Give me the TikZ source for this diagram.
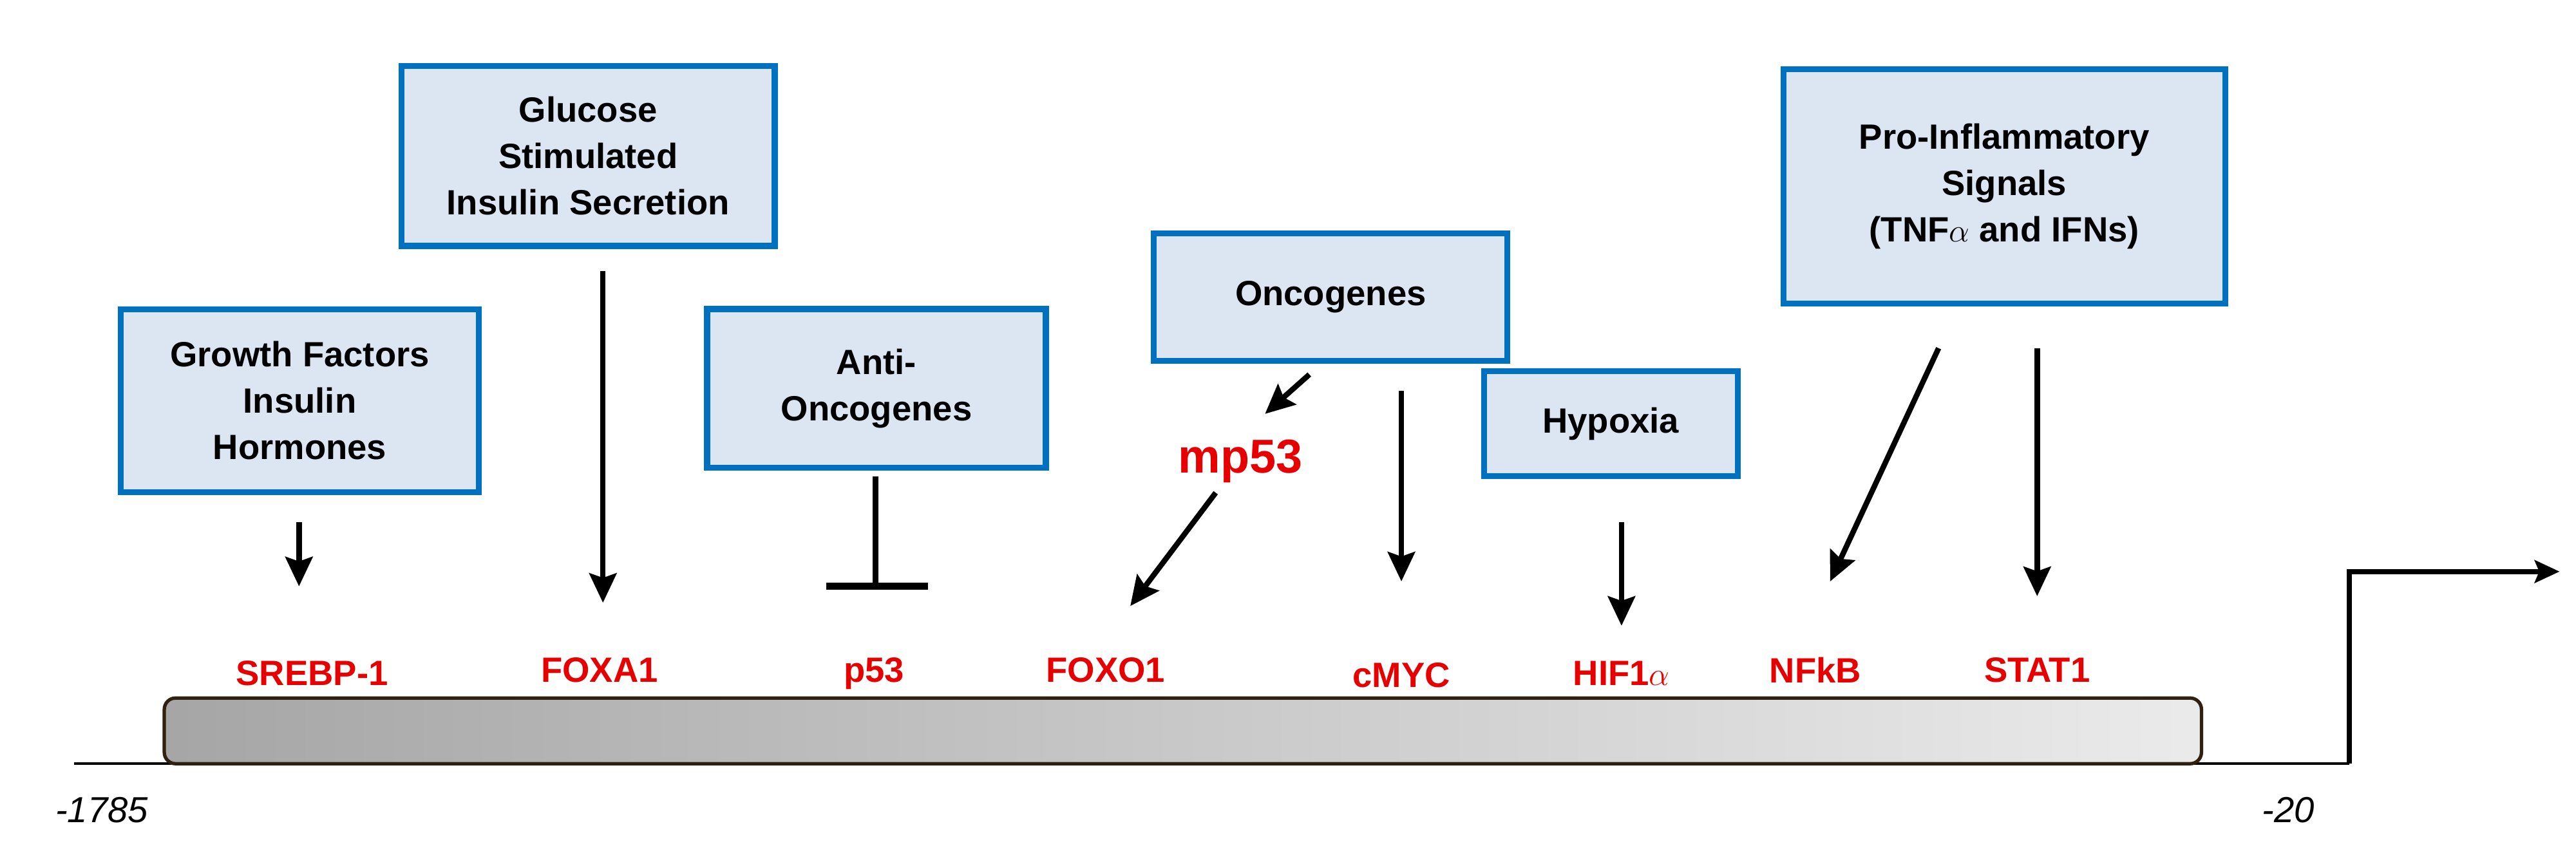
\documentclass[tikz,border=0pt]{standalone}
\usepackage{fontspec}
\setmainfont{Liberation Sans}
\usetikzlibrary{arrows.meta}
\definecolor{boxfill}{RGB}{220,230,242}
\definecolor{boxline}{RGB}{0,112,192}
\definecolor{lab}{RGB}{230,0,0}
\begin{document}
\begin{tikzpicture}[x=0.02551cm,y=-0.02551cm,
 box/.style={draw=boxline,fill=boxfill,line width=2.6pt,align=center,font=\fontsize{15.5}{20.5}\selectfont\bfseries,inner sep=0pt},
 lbl/.style={text=lab,font=\fontsize{15.5}{18}\selectfont\bfseries},
 arr/.style={line width=2.4pt,-{Stealth[length=13pt,width=12pt,inset=2pt]}},
 posl/.style={font=\fontsize{16}{18}\selectfont\itshape}]
\useasboundingbox (0,0) rectangle (1568,525.7);
% baseline and bar
\coordinate (bl) at (45,465);
\coordinate (br) at (1430,465);
\draw[line width=1.2pt] (bl) -- (br);
\shade[left color=black!35,right color=black!8,draw=black!75!brown,line width=1.5pt,rounded corners=5pt] (100,425) rectangle (1340,465);
\coordinate (tss) at (1430,348);
\coordinate (tssend) at (1558,348);
\draw[line width=2.2pt,-{Stealth[length=11pt,width=10pt,inset=2pt]}] (br) -- (tss) -- (tssend);
\node[posl] (p1) at (62,493) {-1785};
\node[posl] (p2) at (1393,493) {-20};
% labels
\node[lbl] (srebp) at (190,410) {SREBP-1};
\node[lbl] (foxa) at (365,408) {FOXA1};
\node[lbl] (p53) at (532,410) {p53};
\node[lbl] (foxo) at (673,408) {FOXO1};
\node[lbl] (cmyc) at (853,411) {cMYC};
\node[lbl] (hif) at (987,410) {HIF1$\alpha$};
\node[lbl] (nfkb) at (1105,408) {NFkB};
\node[lbl] (stat) at (1240,408) {STAT1};
\node[text=lab,font=\fontsize{21}{24}\selectfont\bfseries] (mp53) at (755,281) {mp53};
% boxes
\node[box,minimum width=158.4pt,minimum height=81pt] (gf) at (182.5,244) {Growth Factors\\Insulin\\Hormones};
\node[box,minimum width=164.9pt,minimum height=79.5pt] (gl) at (358,95) {Glucose\\Stimulated\\Insulin Secretion};
\node[box,minimum width=149.7pt,minimum height=70.2pt] (ao) at (533.5,236.5) {Anti-\\Oncogenes};
\node[box,minimum width=156.2pt,minimum height=56.4pt] (on) at (810,181) {Oncogenes};
\node[box,minimum width=112.1pt,minimum height=46.3pt] (hy) at (980.5,258) {Hypoxia};
\node[box,minimum width=195.3pt,minimum height=103.4pt] (pi) at (1220,113.5) {Pro-Inflammatory\\Signals\\(TNF$\alpha$ and IFNs)};
% connectors
\coordinate (a1s) at (182,318); \coordinate (a1e) at (182,357);
\draw[arr] (a1s) -- (a1e);
\coordinate (a2s) at (367,165); \coordinate (a2e) at (367,367);
\draw[arr] (a2s) -- (a2e);
\coordinate (a3s) at (533,290); \coordinate (a3e) at (533,357);
\draw[line width=2.4pt] (a3s) -- (a3e);
\coordinate (tl) at (503,357); \coordinate (tr) at (565,357);
\draw[line width=3.2pt] (tl) -- (tr);
\coordinate (a4s) at (797,228); \coordinate (a4e) at (770,252);
\draw[arr] (a4s) -- (a4e);
\coordinate (a5s) at (740,300); \coordinate (a5e) at (688,369);
\draw[arr] (a5s) -- (a5e);
\coordinate (a6s) at (853,238); \coordinate (a6e) at (853,354);
\draw[arr] (a6s) -- (a6e);
\coordinate (a7s) at (987,318); \coordinate (a7e) at (987,381);
\draw[arr] (a7s) -- (a7e);
\coordinate (a8s) at (1180,212); \coordinate (a8e) at (1114,354);
\draw[arr] (a8s) -- (a8e);
\coordinate (a9s) at (1240,212); \coordinate (a9e) at (1240,363);
\draw[arr] (a9s) -- (a9e);
\end{tikzpicture}
\end{document}
